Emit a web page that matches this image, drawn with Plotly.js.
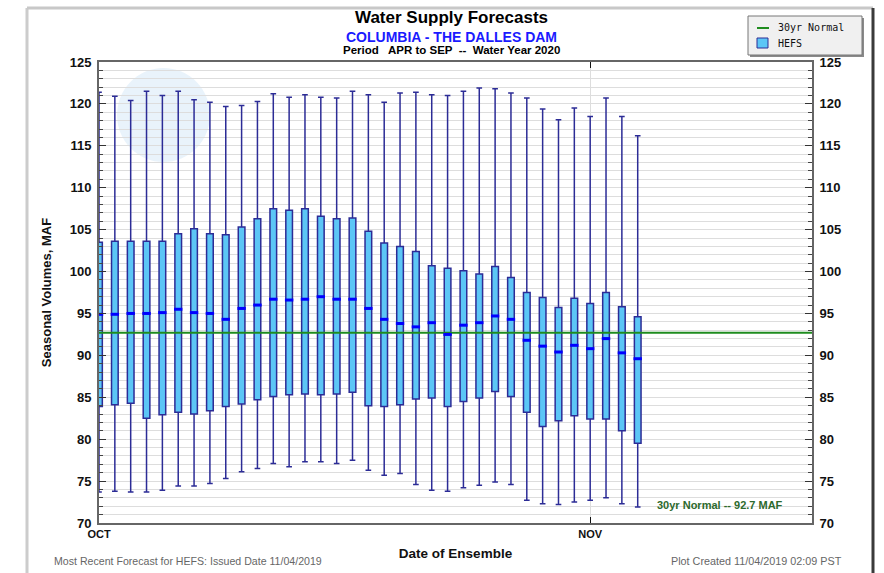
<!DOCTYPE html>
<html>
<head>
<meta charset="utf-8">
<script src="https://cdn.plot.ly/plotly-3.0.1.min.js"></script>
<style>html,body{margin:0;padding:0;background:#fff;}#chart{width:884px;height:573px;}</style>
</head>
<body>
<div id="chart"></div>
<script>
// Ensemble dates (Oct 1 – Nov 4, 2019)
const dates = [
  '2019-10-01','2019-10-02','2019-10-03','2019-10-04','2019-10-05','2019-10-06','2019-10-07',
  '2019-10-08','2019-10-09','2019-10-10','2019-10-11','2019-10-12','2019-10-13','2019-10-14',
  '2019-10-15','2019-10-16','2019-10-17','2019-10-18','2019-10-19','2019-10-20','2019-10-21',
  '2019-10-22','2019-10-23','2019-10-24','2019-10-25','2019-10-26','2019-10-27','2019-10-28',
  '2019-10-29','2019-10-30','2019-10-31','2019-11-01','2019-11-02','2019-11-03','2019-11-04'
];
// HEFS seasonal volume statistics (MAF)
const upper = [121.4,120.9,120.4,121.5,121.0,121.5,120.5,120.2,119.7,119.8,120.3,121.2,120.8,121.1,
  120.8,120.7,121.5,121.1,120.2,121.3,121.4,121.1,121.0,121.5,121.9,121.8,121.3,120.7,
  119.4,118.1,119.5,118.5,120.7,118.5,116.2];
const q3 = [103.5,103.6,103.6,103.6,103.6,104.5,105.1,104.5,104.4,105.3,106.3,107.5,107.3,107.5,
  106.6,106.3,106.4,104.8,103.4,103.0,102.4,100.7,100.4,100.1,99.7,100.6,99.3,97.5,
  96.9,95.7,96.8,96.2,97.5,95.8,94.6];
const median = [94.9,94.9,95.0,95.0,95.1,95.5,95.1,95.0,94.3,95.6,96.0,96.7,96.6,96.7,
  97.0,96.7,96.7,95.6,94.3,93.8,93.4,93.9,92.5,93.6,93.9,94.7,94.3,91.8,
  91.1,90.4,91.2,90.8,92.0,90.3,89.6];
const q1 = [83.9,84.1,84.3,82.5,82.9,83.2,83.0,83.4,83.9,84.2,84.7,85.1,85.3,85.4,
  85.3,85.4,85.6,84.0,83.9,84.1,84.8,84.9,83.9,84.5,84.9,85.7,85.1,83.2,
  81.5,82.2,82.8,82.4,82.4,81.0,79.5];
const lower = [73.7,73.8,73.7,73.7,73.9,74.4,74.4,74.7,75.3,76.1,76.5,77.1,76.7,77.3,
  77.3,77.1,77.5,76.3,75.7,75.9,74.6,73.9,73.8,74.2,74.5,74.9,74.6,72.7,
  72.3,72.2,72.5,72.7,73.0,72.3,71.9];
const normalValue = 92.7;
const xRange = ['2019-10-01', '2019-11-15'];
const yRange = [70, 125];
const monthTickVals = ['2019-10-01', '2019-11-01'];
const monthTickText = ['OCT', 'NOV'];
const legendLabels = ['30yr Normal', 'HEFS'];

const FONT = 'Liberation Sans, Arial, sans-serif';
const MONO = 'DejaVu Sans Mono, monospace';
const DAY = 86400000;
const BOX_FILL = '#5cc6f6';
const BOX_LINE = '#2c2c96';
const NORMAL_COLOR = '#1f8c1f';

const traces = [
  {
    type: 'scatter', mode: 'lines', name: legendLabels[0],
    x: xRange, y: [normalValue, normalValue],
    line: {color: NORMAL_COLOR, width: 2},
    hoverinfo: 'skip'
  },
  {
    type: 'box', name: legendLabels[1],
    x: dates, q1: q1, median: median, q3: q3, lowerfence: lower, upperfence: upper,
    fillcolor: BOX_FILL,
    line: {color: BOX_LINE, width: 1.5},
    whiskerwidth: 0.85,
    width: 0.42 * DAY,
    boxpoints: false,
    hoverinfo: 'skip'
  },
  {
    type: 'scatter', mode: 'markers', name: 'median',
    x: dates, y: median,
    marker: {symbol: 'line-ew', size: 6, line: {color: '#0000ff', width: 3}},
    hoverinfo: 'skip'
  },
  {
    type: 'scatter', mode: 'lines', yaxis: 'y2',
    x: xRange, y: [normalValue, normalValue],
    line: {color: 'rgba(0,0,0,0)', width: 0}, hoverinfo: 'skip'
  }
];

const px = v => (v - 99) / 713;
const py = v => (523 - v) / 461;

const yCommon = {
  range: yRange, dtick: 5, tick0: 70,
  ticks: 'inside', ticklen: 7, tickwidth: 1, tickcolor: '#333',
  tickfont: {family: FONT, size: 13, color: '#111', weight: 'bold'},
  showline: true, linecolor: '#666', linewidth: 2,
  zeroline: false, fixedrange: true
};

const ann = (x, y, text, font, xanchor) => ({
  xref: 'paper', yref: 'paper', x: px(x), y: py(y), xanchor: xanchor || 'center', yanchor: 'middle',
  showarrow: false, text: text, font: font
});

const layout = {
  width: 884, height: 573,
  margin: {l: 99, r: 72, t: 62, b: 50},
  paper_bgcolor: '#ffffff', plot_bgcolor: '#ffffff',
  font: {family: FONT, color: '#111'},
  showlegend: false,
  xaxis: {
    type: 'date', range: xRange,
    tickvals: monthTickVals, ticktext: monthTickText,
    ticks: 'inside', ticklen: 6, tickcolor: '#111', mirror: 'ticks',
    tickfont: {family: FONT, size: 11, color: '#111', weight: 'bold'},
    showgrid: true, gridcolor: '#dddddd', gridwidth: 1,
    showline: true, linecolor: '#666', linewidth: 2,
    zeroline: false, fixedrange: true,
    title: {text: 'Date of Ensemble', font: {family: FONT, size: 13.5, color: '#111', weight: 'bold'}, standoff: 9}
  },
  yaxis: Object.assign({}, yCommon, {
    side: 'left', mirror: true,
    showgrid: true, gridcolor: '#dddddd', gridwidth: 1,
    minor: {dtick: 1, ticks: 'inside', ticklen: 4, tickcolor: '#444', showgrid: true, gridcolor: '#dddddd', gridwidth: 1},
    ticklabelstandoff: 3,
    title: {text: 'Seasonal Volumes, MAF', font: {family: FONT, size: 13, color: '#111', weight: 'bold'}, standoff: 15}
  }),
  yaxis2: Object.assign({}, yCommon, {
    side: 'right', overlaying: 'y', showgrid: false,
    minor: {dtick: 1, ticks: 'inside', ticklen: 4, tickcolor: '#444', showgrid: false},
    ticklabelstandoff: 3
  }),
  shapes: [
    // faint agency logo watermark
    {type: 'circle', xref: 'paper', yref: 'paper', layer: 'below',
      x0: px(117), x1: px(210), y0: py(162), y1: py(68),
      fillcolor: 'rgba(200,226,244,0.4)', line: {width: 0}},
    // legend box with shadow
    {type: 'rect', xref: 'paper', yref: 'paper',
      x0: px(750), x1: px(864), y0: py(57), y1: py(18),
      fillcolor: '#8a8a8a', line: {width: 0}},
    {type: 'rect', xref: 'paper', yref: 'paper',
      x0: px(748), x1: px(862), y0: py(55), y1: py(16),
      fillcolor: '#f0f0f0', line: {color: '#777', width: 1}},
    {type: 'line', xref: 'paper', yref: 'paper',
      x0: px(757), x1: px(769), y0: py(28), y1: py(28),
      line: {color: NORMAL_COLOR, width: 2}},
    {type: 'rect', xref: 'paper', yref: 'paper',
      x0: px(757), x1: px(768), y0: py(48), y1: py(38),
      fillcolor: BOX_FILL, line: {color: BOX_LINE, width: 1}},
    // outer frame
    {type: 'line', xref: 'paper', yref: 'paper', x0: px(27), x1: px(27), y0: py(8), y1: py(580),
      line: {color: '#cccccc', width: 3}},
    {type: 'line', xref: 'paper', yref: 'paper', x0: px(27), x1: px(873), y0: py(8), y1: py(8),
      line: {color: '#c8c8c8', width: 3}},
    {type: 'line', xref: 'paper', yref: 'paper', x0: px(873), x1: px(873), y0: py(8), y1: py(580),
      line: {color: '#3a3a3a', width: 3}}
  ],
  annotations: [
    ann(451, 18, '<b>Water Supply Forecasts</b>', {family: FONT, size: 17, color: '#000'}),
    ann(451, 37, '<b>COLUMBIA - THE DALLES DAM</b>', {family: FONT, size: 14, color: '#1a1aff'}),
    ann(451, 50, '<b>Period   APR to SEP  --  Water Year 2020</b>', {family: FONT, size: 11.5, color: '#000'}),
    ann(785, 505, '<b>30yr Normal -- ' + normalValue + ' MAF</b>', {family: FONT, size: 11, color: '#2d6a2d'}, 'right'),
    ann(52, 561, 'Most Recent Forecast for HEFS: Issued Date 11/04/2019', {family: FONT, size: 10.6, color: '#666'}, 'left'),
    ann(844, 561, 'Plot Created 11/04/2019 02:09 PST', {family: FONT, size: 10.8, color: '#666'}, 'right'),
    ann(776, 28, legendLabels[0], {family: MONO, size: 10, color: '#111'}, 'left'),
    ann(776, 43, legendLabels[1], {family: MONO, size: 10, color: '#111'}, 'left')
  ]
};

Plotly.newPlot('chart', traces, layout, {staticPlot: true, displayModeBar: false});
</script>
</body>
</html>
